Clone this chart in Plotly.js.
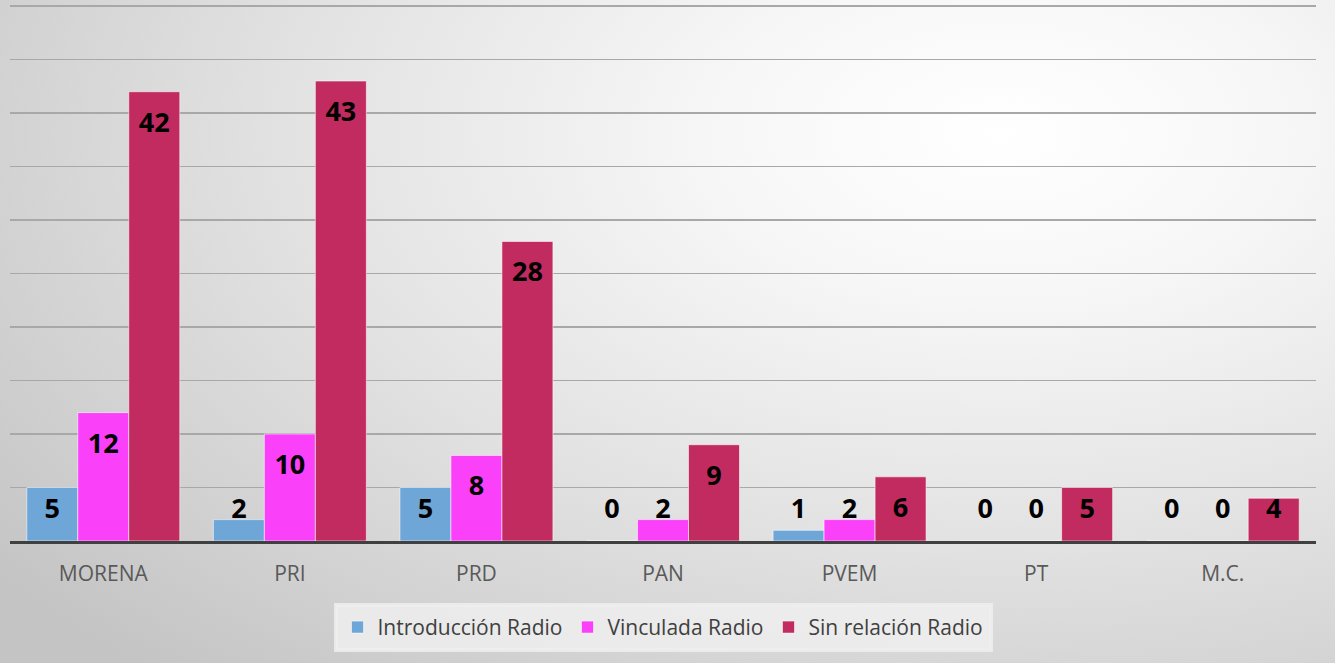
<!DOCTYPE html>
<html>
<head>
<meta charset="utf-8">
<script src="https://cdn.plot.ly/plotly-3.0.1.min.js"></script>
<style>
html,body{margin:0;padding:0;}
body{width:1335px;height:663px;overflow:hidden;
background: radial-gradient(ellipse 95% 110% at 75% 20%, #ffffff 0%, #f7f7f7 22%, #e3e3e3 55%, #c4c4c4 100%);}
#chart{width:1335px;height:663px;}
</style>
</head>
<body>
<div id="chart"></div>
<script>
var categories = ["MORENA", "PRI", "PRD", "PAN", "PVEM", "PT", "M.C."];
var seriesNames = ["Introducción Radio", "Vinculada Radio", "Sin relación Radio"];
var introduccion = [5, 2, 5, 0, 1, 0, 0];
var vinculada = [12, 10, 8, 2, 2, 0, 0];
var sinRelacion = [42, 43, 28, 9, 6, 5, 4];
var colors = ["#6fa6d8", "#fa40f8", "#c12b5f"];

var series = [introduccion, vinculada, sinRelacion];
var traces = [];
series.forEach(function(vals, i){
  traces.push({
    type: "bar", x: categories, y: vals, name: seriesNames[i],
    offsetgroup: String(i),
    marker: {color: colors[i], line: {color: "rgba(255,255,255,0.55)", width: 1}},
    hoverinfo: "skip"
  });
});
series.forEach(function(vals, i){
  traces.push({
    type: "scatter", mode: "text", x: categories,
    y: vals.map(function(v){ return Math.max(v - 3.1, 2.75); }),
    text: vals.map(String), offsetgroup: String(i),
    textposition: "middle center",
    textfont: {family: "Open Sans", size: 27, color: "#000000", weight: "bold"},
    showlegend: false, hoverinfo: "skip", cliponaxis: false
  });
});

var layout = {
  width: 1335, height: 663,
  paper_bgcolor: "rgba(0,0,0,0)", plot_bgcolor: "rgba(0,0,0,0)",
  margin: {l: 10, r: 19, t: 4, b: 122},
  barmode: "group", bargap: 0.18, bargroupgap: 0,
  scattermode: "group", scattergap: 0.18,
  xaxis: {
    type: "category", showgrid: false, zeroline: false,
    showline: true, linecolor: "#404040", linewidth: 3, layer: "above traces",
    ticks: "", ticklabelstandoff: 12,
    tickfont: {family: "Open Sans", size: 21, color: "#595959"}
  },
  yaxis: {
    range: [0, 50.2], tickvals: [5, 10, 15, 20, 25, 30, 35, 40, 45, 50], showticklabels: false,
    showgrid: true, gridcolor: "#a8a8a8", gridwidth: 1.3,
    zeroline: false, showline: false,
    fixedrange: true
  },
  showlegend: true,
  legend: {
    orientation: "h", x: 0.5, xanchor: "center", y: -0.161, yanchor: "middle",
    bgcolor: "rgba(238,238,238,0.85)", bordercolor: "rgba(238,238,238,0.85)", borderwidth: 4,
    font: {family: "Open Sans", size: 21, color: "#404040"},
    itemclick: false, itemdoubleclick: false, traceorder: "normal"
  }
};

Plotly.newPlot("chart", traces, layout, {displayModeBar: false, staticPlot: true});
</script>
</body>
</html>
